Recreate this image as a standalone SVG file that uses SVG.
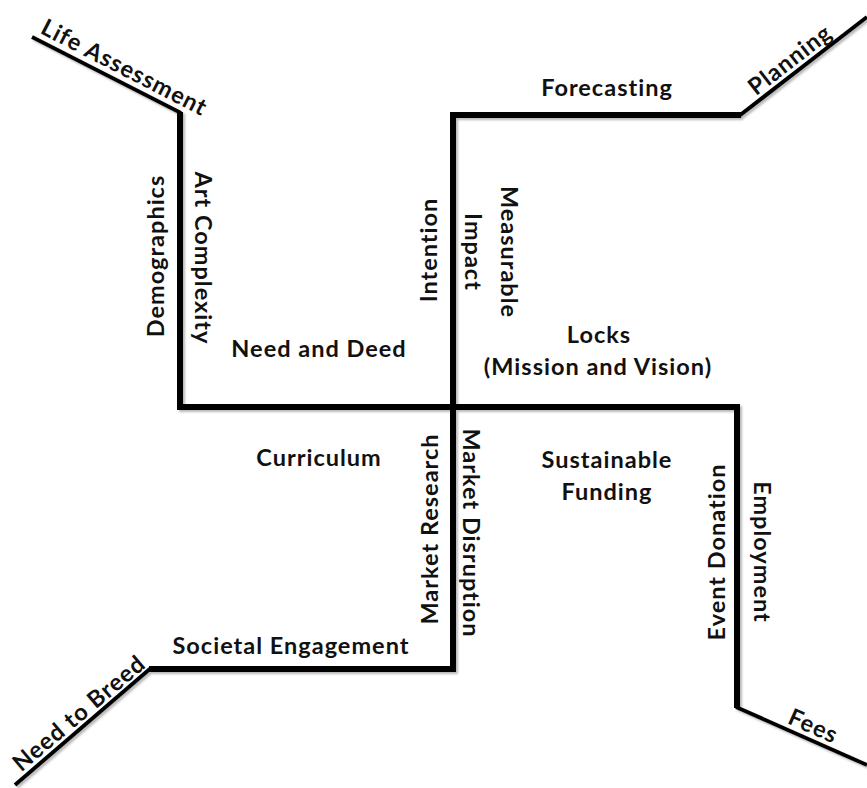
<svg xmlns="http://www.w3.org/2000/svg" width="867" height="788" viewBox="0 0 867 788">
<style>
.t{font-family:Lato,"Open Sans","Liberation Sans",sans-serif;font-weight:bold;font-size:23.5px;letter-spacing:1px;fill:#111}
.c{text-anchor:middle}
.main{fill:none;stroke:#000;stroke-width:6;stroke-linejoin:miter;stroke-linecap:butt}
.diag{fill:none;stroke:#000;stroke-width:4;stroke-linecap:butt}
</style>
<defs>
<filter id="sh" x="-5%" y="-5%" width="110%" height="110%">
<feDropShadow dx="2" dy="2" stdDeviation="1" flood-color="#888" flood-opacity="0.6"/>
</filter>
</defs>
<rect width="867" height="788" fill="#fff"/>
<g id="connectors" filter="url(#sh)">
<path class="diag" d="M32,37 L181,113"/>
<path class="main" d="M180,112 L180,407 L737,407 L737,708"/>
<path class="diag" d="M736,707 L867,765"/>
<path class="main" d="M741,115 L453,115 L453,669 L149,669"/>
<path class="diag" d="M739,116 L867,17"/>
<path class="diag" d="M151,668 L15,785"/>
</g>
<g id="life-assessment"><text class="t c" transform="translate(118,80) rotate(27.2)" y="-6">Life Assessment</text></g>
<g id="planning"><text class="t c" transform="translate(798,70) rotate(-37.7)" y="-5">Planning</text></g>
<g id="need-to-breed"><text class="t c" transform="translate(88,724) rotate(-40.2)" y="-6">Need to Breed</text></g>
<g id="fees"><text class="t c" transform="translate(808,738) rotate(24)" y="-5">Fees</text></g>
<g id="forecasting"><text class="t c" x="607" y="96">Forecasting</text></g>
<g id="demographics"><text class="t c" transform="translate(164,256) rotate(-90)">Demographics</text></g>
<g id="art-complexity"><text class="t c" transform="translate(195,258) rotate(90)">Art Complexity</text></g>
<g id="need-and-deed"><text class="t c" x="319" y="357">Need and Deed</text></g>
<g id="intention"><text class="t c" transform="translate(437,250) rotate(-90)">Intention</text></g>
<g id="measurable-impact"><text class="t c" transform="translate(501,252) rotate(90)">Measurable</text><text class="t c" transform="translate(465,252) rotate(90)">Impact</text></g>
<g id="locks"><text class="t c" x="599" y="343">Locks</text><text class="t c" x="598" y="375">(Mission and Vision)</text></g>
<g id="curriculum"><text class="t c" x="319" y="466">Curriculum</text></g>
<g id="societal-engagement"><text class="t c" x="291" y="654">Societal Engagement</text></g>
<g id="market-research"><text class="t c" transform="translate(438,529) rotate(-90)">Market Research</text></g>
<g id="market-disruption"><text class="t c" transform="translate(463,533) rotate(90)">Market Disruption</text></g>
<g id="sustainable-funding"><text class="t c" x="607" y="468">Sustainable</text><text class="t c" x="607" y="500">Funding</text></g>
<g id="event-donation"><text class="t c" transform="translate(725,552) rotate(-90)">Event Donation</text></g>
<g id="employment"><text class="t c" transform="translate(754,552) rotate(90)">Employment</text></g>
</svg>
